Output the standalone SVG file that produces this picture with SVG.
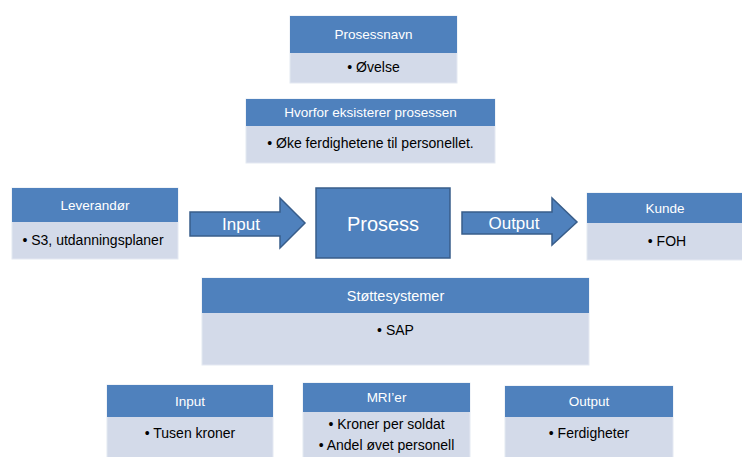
<svg xmlns="http://www.w3.org/2000/svg" width="742" height="457" viewBox="0 0 742 457">
<style>
.hd{fill:#4F81BD;}
.bd{fill:#D3DAE9;stroke:#E4E9F2;stroke-width:1;}
.ht{font-family:"Liberation Sans",Arial,sans-serif;font-size:13.5px;fill:#FFFFFF;text-anchor:middle;dominant-baseline:central;}
.bt{font-family:"Liberation Sans",Arial,sans-serif;font-size:14px;fill:#000000;text-anchor:middle;dominant-baseline:central;}
.big{fill:#4F81BD;stroke:#385D8A;stroke-width:1.5;}
.at{font-family:"Liberation Sans",Arial,sans-serif;font-size:17px;fill:#FFFFFF;text-anchor:middle;dominant-baseline:central;}
</style>
<rect width="742" height="457" fill="#FFFFFF"/>
<g id="prosessnavn">
<rect class="bd" x="290" y="16" width="167" height="67"/>
<rect class="hd" x="290" y="16" width="167" height="37"/>
<text class="ht" x="373.5" y="34.5">Prosessnavn</text>
<text class="bt" x="373.5" y="67">• Øvelse</text>
</g>
<g id="hvorfor">
<rect class="bd" x="246" y="99" width="249" height="64"/>
<rect class="hd" x="246" y="99" width="249" height="27"/>
<text class="ht" x="370.5" y="112.5">Hvorfor eksisterer prosessen</text>
<text class="bt" x="370.5" y="143">• Øke ferdighetene til personellet.</text>
</g>
<g id="leverandor">
<rect class="bd" x="12" y="188" width="166" height="71"/>
<rect class="hd" x="12" y="188" width="166" height="34"/>
<text class="ht" x="95" y="205">Leverandør</text>
<text class="bt" x="93" y="240">• S3, utdanningsplaner</text>
</g>
<g id="prosess">
<rect class="big" x="316" y="188" width="134" height="70"/>
<text class="at" x="383" y="224" style="font-size:20px">Prosess</text>
</g>
<g id="kunde">
<rect class="bd" x="587" y="193" width="160" height="67"/>
<rect class="hd" x="587" y="193" width="160" height="30"/>
<text class="ht" x="665" y="208">Kunde</text>
<text class="bt" x="667" y="241">• FOH</text>
</g>
<g id="stottesystemer">
<rect class="bd" x="202" y="278" width="387" height="87"/>
<rect class="hd" x="202" y="278" width="387" height="35"/>
<text class="ht" x="395.5" y="296" style="font-size:14.5px">Støttesystemer</text>
<text class="bt" x="395.5" y="330">• SAP</text>
</g>
<g id="input-mri">
<rect class="bd" x="107" y="385" width="166" height="80"/>
<rect class="hd" x="107" y="385" width="166" height="32"/>
<text class="ht" x="190" y="401">Input</text>
<text class="bt" x="190" y="433">• Tusen kroner</text>
</g>
<g id="mrier">
<rect class="bd" x="303" y="383" width="167" height="82"/>
<rect class="hd" x="303" y="383" width="167" height="29"/>
<text class="ht" x="386.5" y="397.5">MRI’er</text>
<text class="bt" x="386.5" y="424">• Kroner per soldat</text>
<text class="bt" x="386.5" y="445">• Andel øvet personell</text>
</g>
<g id="output-mri">
<rect class="bd" x="505" y="386" width="168" height="80"/>
<rect class="hd" x="505" y="386" width="168" height="31"/>
<text class="ht" x="589" y="401.5">Output</text>
<text class="bt" x="589" y="433">• Ferdigheter</text>
</g>
<g id="connectors">
<g id="input-arrow">
<path class="big" d="M190,212 L280,212 L280,198 L305,223 L280,248 L280,236 L190,236 Z"/>
<text class="at" x="241" y="224">Input</text>
</g>
<g id="output-arrow">
<path class="big" d="M462,212 L552,212 L552,198 L577,222 L552,245 L552,234 L462,234 Z"/>
<text class="at" x="514" y="223">Output</text>
</g>
</g>
</svg>
